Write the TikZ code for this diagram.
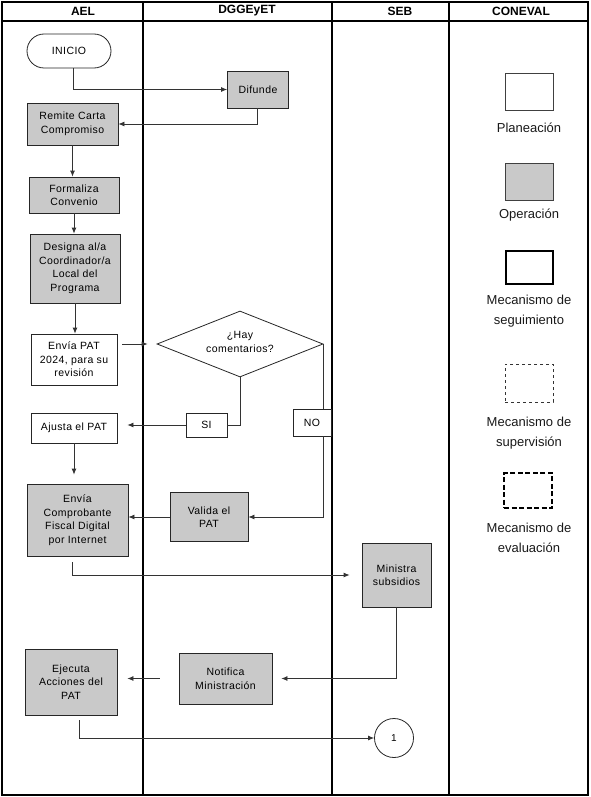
\documentclass[tikz,border=0pt]{standalone}
\usepackage{fontspec}
\setmainfont{Liberation Sans}
\newfontfamily\bxfont[LetterSpace=4]{Liberation Sans}
\usetikzlibrary{arrows.meta,shapes.geometric}
\tikzset{
  proc/.style={draw=black!85, line width=0.8pt, fill=gray!42, align=center, inner sep=1pt,
    font=\bxfont\fontsize{10.5}{13.5}\selectfont},
  plan/.style={proc, fill=white},
  tag/.style={draw=black!85, line width=0.8pt, fill=white, inner sep=0pt,
    font=\bxfont\fontsize{10.5}{13.5}\selectfont},
  conn/.style={draw=black!80, line width=0.8pt},
  arr/.style={conn, -{Latex[length=6pt,width=5pt]}},
  hdr/.style={font=\bfseries\fontsize{12}{14}\selectfont},
  leg/.style={align=center, font=\fontsize{13}{20}\selectfont, text=black!90},
  legbox/.style={minimum width=48pt, minimum height=37pt, inner sep=0pt}
}
\begin{document}
\begin{tikzpicture}[x=1pt,y=-1pt]
\useasboundingbox (0,0) rectangle (590,797);
% frame and lanes
\draw[line width=1.2pt] (2,2) rectangle (588,795);
\draw[line width=1.6pt] (2,21) -- (588,21);
\draw[line width=1.8pt] (143,2) -- (143,795);
\draw[line width=1.2pt] (332,2) -- (332,795);
\draw[line width=1.2pt] (449,2) -- (449,795);
\node[hdr] (hael) at (83,11) {AEL};
\node[hdr] (hdgg) at (247,11) {DGGEyET};
\node[hdr] (hseb) at (400,11) {SEB};
\node[hdr] (hcon) at (521,11) {CONEVAL};

% nodes
\node[plan, rounded corners=17pt, minimum width=84pt, minimum height=34pt] (inicio) at (69,51) {INICIO};
\node[proc, minimum width=61pt, minimum height=37pt] (difunde) at (258,89.5) {Difunde};
\node[proc, minimum width=91pt, minimum height=42pt] (remite) at (72.5,124) {Remite Carta\\Compromiso};
\node[proc, minimum width=90pt, minimum height=36pt] (formaliza) at (74,195) {Formaliza\\Convenio};
\node[proc, minimum width=90pt, minimum height=69pt] (designa) at (75,268.5) {Designa al/a\\Coordinador/a\\Local del\\Programa};
\node[plan, minimum width=86pt, minimum height=51pt] (envia) at (74,359.5) {Envía PAT\\2024, para su\\revisión};
\node[draw=black!85, line width=0.8pt, diamond, minimum width=166pt, minimum height=66pt, inner sep=0pt] (dec) at (240,344) {};
\node[align=center, font=\bxfont\fontsize{10.5}{13.5}\selectfont] (dectxt) at (240,342) {¿Hay\\comentarios?};
\node[tag, minimum width=41pt, minimum height=24pt] (si) at (206.5,425) {SI};
\node[plan, minimum width=86pt, minimum height=30pt] (ajusta) at (74,428) {Ajusta el PAT};
\node[tag, minimum width=38pt, minimum height=27pt] (no) at (312,422.5) {NO};
\node[proc, minimum width=78pt, minimum height=49pt] (valida) at (209,517) {Valida el\\PAT};
\node[proc, minimum width=101pt, minimum height=72pt] (cfdi) at (77.5,520) {Envía\\Comprobante\\Fiscal Digital\\por Internet};
\node[proc, minimum width=69pt, minimum height=64pt] (ministra) at (396.5,575) {Ministra\\subsidios};
\node[proc, minimum width=93pt, minimum height=51pt] (notifica) at (225.5,678.5) {Notifica\\Ministración};
\node[proc, minimum width=92pt, minimum height=66pt] (ejecuta) at (71,682) {Ejecuta\\Acciones del\\PAT};
\node[draw=black!85, line width=0.8pt, circle, minimum size=39pt, inner sep=0pt, fill=white,
  font=\fontsize{10}{11}\selectfont] (uno) at (394,738) {1};

% connectors
\draw[arr] ([xshift=4pt]inicio.south) |- (difunde.west);
\draw[arr] ([xshift=-1pt]difunde.south) |- (remite.east);
\draw[arr] (remite.south) -- (remite.south |- formaliza.north);
\draw[arr] (formaliza.south) -- (formaliza.south |- designa.north);
\draw[arr] (designa.south) -- (designa.south |- envia.north);
\draw[arr, shorten <=5pt, shorten >=9pt] (envia.east |- dec.west) -- (dec.west);
\draw[conn] (dec.south) |- (si.east);
\draw[arr, shorten >=10pt] (si.west) -- (ajusta.east |- si.west);
\draw[conn] (dec.east) -- (no.north -| dec.east);
\draw[arr] (no.south -| dec.east) |- (valida.east);
\draw[arr, shorten >=9pt] (ajusta.south) -- (ajusta.south |- cfdi.north);
\draw[arr] (valida.west) -- (cfdi.east |- valida.west);
\draw[arr, shorten <=6pt, shorten >=12pt] ([xshift=-5pt]cfdi.south) |- (ministra.west);
\draw[arr, shorten >=9pt] (ministra.south) |- (notifica.east);
\draw[arr, shorten <=19pt, shorten >=10pt] (notifica.west) -- (ejecuta.east |- notifica.west);
\draw[arr, shorten <=5pt] ([xshift=8pt]ejecuta.south) |- (uno.west);

% legend
\node[legbox, draw=black!75, line width=0.8pt, fill=white] (lplan) at (529,91.5) {};
\node[leg] (tplan) at (529,128) {Planeación};
\node[legbox, draw=black!75, line width=0.8pt, fill=gray!42] (lop) at (529,182) {};
\node[leg] (top) at (529,215) {Operación};
\node[legbox, draw=black, line width=2pt, minimum width=47pt, minimum height=33pt] (lseg) at (529,267.5) {};
\node[leg] (tseg) at (529,311) {Mecanismo de\\seguimiento};
\node[legbox, draw=black!80, line width=0.8pt, dashed, minimum height=38pt] (lsup) at (529,383) {};
\node[leg] (tsup) at (529,433) {Mecanismo de\\supervisión};
\node[legbox, draw=black, line width=2pt, dash pattern=on 5pt off 2.5pt, minimum height=35pt] (leva) at (528,490.5) {};
\node[leg] (teva) at (529,538) {Mecanismo de\\evaluación};
\end{tikzpicture}
\end{document}
